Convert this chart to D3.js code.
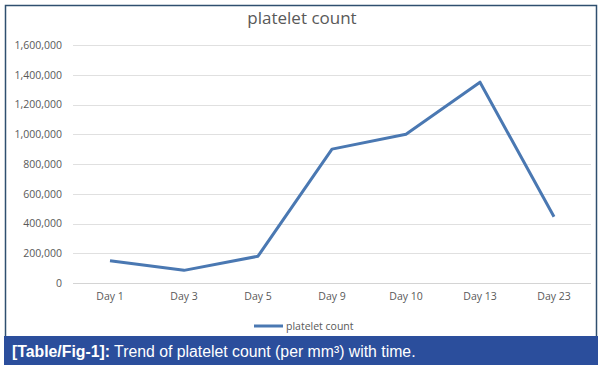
<!DOCTYPE html>
<html>
<head>
<meta charset="utf-8">
<script src="https://cdn.jsdelivr.net/npm/d3@7"></script>
<style>
  body { margin: 0; background: #fff; }
  svg { display: block; }
</style>
</head>
<body>
<svg id="chart"></svg>
<script>
var days = ["Day 1", "Day 3", "Day 5", "Day 9", "Day 10", "Day 13", "Day 23"];
var platelets = [150000, 85000, 180000, 900000, 1000000, 1350000, 445000];
var yTicks = [0, 200000, 400000, 600000, 800000, 1000000, 1200000, 1400000, 1600000];
var seriesName = "platelet count";
var caption = "Trend of platelet count (per mm\u00B3) with time.";

var W = 601, H = 370;

var svg = d3.select("#chart").attr("width", W).attr("height", H);

// frame
svg.append("rect")
  .attr("x", 5.5).attr("y", 5.5)
  .attr("width", 591).attr("height", 340)
  .attr("fill", "#fff")
  .attr("stroke", "#2f4f6f")
  .attr("stroke-width", 1.5);

var x = d3.scaleBand().domain(days).range([73, 591]);
var y = d3.scaleLinear().domain([0, 1600000]).range([283, 45]);

// gridlines
svg.append("g")
  .selectAll("line")
  .data(yTicks)
  .enter()
  .append("line")
    .attr("x1", 73).attr("x2", 591)
    .attr("y1", d => Math.round(y(d)) + 0.5)
    .attr("y2", d => Math.round(y(d)) + 0.5)
    .attr("stroke", d => d === 0 ? "#d4d4d4" : "#e0e0e0")
    .attr("stroke-width", 1);

// y axis labels
var yAxis = d3.axisLeft(y).tickValues(yTicks).tickSize(0).tickPadding(0)
  .tickFormat(d3.format(","));
var gy = svg.append("g").attr("transform", "translate(62,0)").call(yAxis);
gy.select(".domain").remove();
gy.selectAll("text")
  .style("font-family", "'Open Sans', sans-serif")
  .style("font-size", "10.5px")
  .attr("fill", "#595959");

// x axis labels
var xAxis = d3.axisBottom(x).tickSize(0).tickPadding(0);
var gx = svg.append("g").attr("transform", "translate(0,293)").call(xAxis);
gx.select(".domain").remove();
gx.selectAll("text")
  .style("font-family", "'Open Sans', sans-serif")
  .style("font-size", "10.5px")
  .attr("fill", "#595959");

// line
var line = d3.line()
  .x((d, i) => x(days[i]) + x.bandwidth() / 2)
  .y(d => y(d));

svg.append("path")
  .datum(platelets)
  .attr("d", line)
  .attr("fill", "none")
  .attr("stroke", "#4a78b2")
  .attr("stroke-width", 3)
  .attr("stroke-linejoin", "round");

// title
svg.append("text")
  .attr("x", 302).attr("y", 24)
  .attr("text-anchor", "middle")
  .style("font-family", "'Open Sans', sans-serif")
  .style("font-size", "17px")
  .attr("fill", "#595959")
  .text(seriesName);

// legend
svg.append("line")
  .attr("x1", 254).attr("x2", 283)
  .attr("y1", 326).attr("y2", 326)
  .attr("stroke", "#4a78b2").attr("stroke-width", 3);
svg.append("text")
  .attr("x", 286).attr("y", 330)
  .style("font-family", "'Open Sans', sans-serif")
  .style("font-size", "10.5px")
  .attr("fill", "#595959")
  .text(seriesName);

// caption bar
svg.append("rect")
  .attr("x", 4).attr("y", 336)
  .attr("width", 594).attr("height", 29)
  .attr("fill", "#2b4e9c");
var cap = svg.append("text")
  .attr("x", 12).attr("y", 357)
  .style("font-family", "'Liberation Sans', Arial, sans-serif")
  .style("font-size", "15.8px")
  .attr("fill", "#fff");
cap.append("tspan").style("font-weight", "bold").text("[Table/Fig-1]:");
cap.append("tspan").text(" " + caption);
</script>
</body>
</html>
